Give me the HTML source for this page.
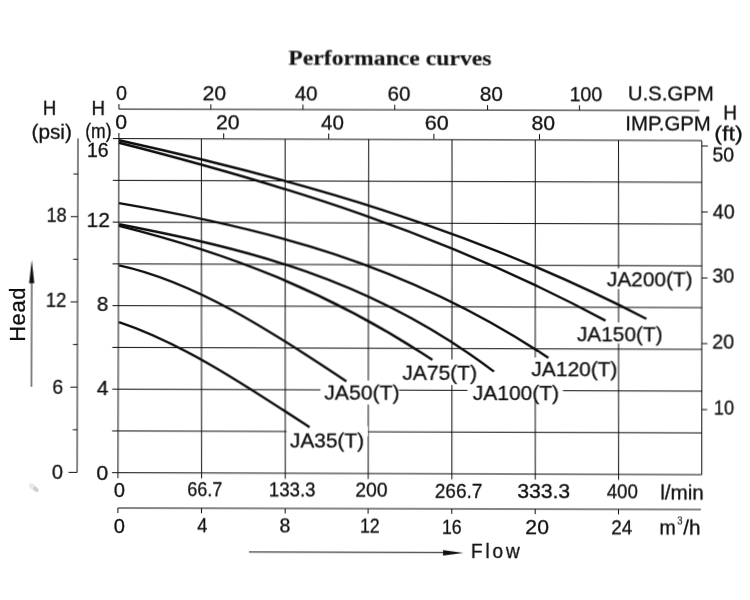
<!DOCTYPE html>
<html lang="en"><head><meta charset="utf-8"><title>Performance curves</title>
<style>html,body{margin:0;padding:0;background:#fff}body{width:750px;height:600px;overflow:hidden}svg{display:block}</style></head>
<body>
<svg width="750" height="600" viewBox="0 0 750 600" fill="#101010">
<style>text{stroke:#101010;stroke-width:.3px;stroke-linejoin:round}</style>
<rect width="750" height="600" fill="#fff"/>
<g transform="rotate(0.15 118.9 138.5)" style="opacity:.999">
<path d="M118.90 138.60L118.87 472.70M201.37 138.67L202.48 472.77M285.14 138.74L286.18 472.84M368.72 138.80L369.08 472.90M451.99 138.87L452.78 472.97M535.26 138.94L536.18 473.04M618.53 139.01L619.48 473.11M701.80 139.07L702.68 473.17M118.90 138.60L701.80 139.07M118.90 180.36L701.91 180.84M118.89 222.13L702.02 222.60M118.89 263.89L702.13 264.36M118.89 305.65L702.24 306.12M118.88 347.41L702.35 347.89M118.88 389.18L702.46 389.65M118.88 430.94L702.57 431.41M118.87 472.70L702.68 473.17" stroke="#0c0c0c" stroke-width="1.0" fill="none"/>
<path d="M112.90 138.60H118.90M112.90 180.36H118.90M112.89 222.13H118.89M112.89 263.89H118.89M112.89 305.65H118.89M112.88 347.41H118.88M112.88 389.18H118.88M112.88 430.94H118.88M112.87 472.70H118.87M118.87 472.70v5.5M202.48 472.77v5.5M286.18 472.84v5.5M369.08 472.90v5.5M452.78 472.97v5.5M536.18 473.04v5.5M619.48 473.11v5.5" stroke="#0c0c0c" stroke-width="1.0" fill="none"/>
<rect x="612.3" y="267.2" width="13.0" height="20.5" fill="#fff"/>
<rect x="612.5" y="321.2" width="13.0" height="21.0" fill="#fff"/>
<rect x="287.3" y="425.6" width="81.5" height="10.0" fill="#fff"/>
<rect x="321.1" y="384.5" width="78.5" height="10.0" fill="#fff"/>
<rect x="363.6" y="379.9" width="11.0" height="24.0" fill="#fff"/>
<rect x="447.6" y="358.6" width="10.0" height="25.5" fill="#fff"/>
<rect x="468.1" y="384.1" width="95.5" height="11.0" fill="#fff"/>
<rect x="530.6" y="356.4" width="11.0" height="43.0" fill="#fff"/>
<path d="M78.00 138.50V472.50H69.50M73.50 429.88H78.00M71.00 387.25H78.00M73.50 344.62H78.00M71.00 302.00H78.00M73.50 259.38H78.00M71.00 216.75H78.00M73.50 174.12H78.00" stroke="#0c0c0c" stroke-width="1.0" fill="none"/>
<path d="M118.90 104.10V109.10H699.40M210.80 104.10V109.10M302.90 104.10V109.10M394.70 104.10V109.10M487.50 104.10V109.10M579.40 104.10V109.10" stroke="#0c0c0c" stroke-width="1.0" fill="none"/>
<path d="M118.90 133.00V138.50M223.70 133.00V138.50M328.70 133.00V138.50M433.90 133.00V138.50M539.50 133.00V138.50" stroke="#0c0c0c" stroke-width="1.0" fill="none"/>
<path d="M701.90 144.47h6M701.90 210.47h6M701.90 276.47h6M701.90 342.07h6M701.90 408.07h6" stroke="#0c0c0c" stroke-width="1.0" fill="none"/>
<path d="M118.90 513.00V508.00H701.90M202.48 508.00v5M286.18 508.00v5M369.08 508.00v5M452.78 508.00v5M536.18 508.00v5M619.48 508.00v5" stroke="#0c0c0c" stroke-width="1.0" fill="none"/>
<path d="M32.1 387V282" stroke="#0c0c0c" stroke-width="1" fill="none"/>
<path d="M32.1 260l2.6 23.5h-5.2z" fill="#101010"/>
<path d="M250.1 551.7H445.1" stroke="#0c0c0c" stroke-width="1" fill="none"/>
<path d="M464.6 552.0l-20.5 -2.8v5.6z" fill="#101010"/>
<path d="M119.00 140.27C294.91 178.75 470.83 226.78 646.87 317.48" stroke="#0c0c0c" stroke-width="2.4" fill="none"/>
<path d="M119.01 142.77C281.29 183.72 443.58 232.55 605.98 319.38" stroke="#0c0c0c" stroke-width="2.4" fill="none"/>
<path d="M119.17 203.16C262.37 227.47 405.59 261.44 548.97 356.74" stroke="#0c0c0c" stroke-width="2.4" fill="none"/>
<path d="M119.22 224.26C244.29 248.30 369.36 276.52 494.61 370.61" stroke="#0c0c0c" stroke-width="2.4" fill="none"/>
<path d="M119.23 225.84C223.76 251.63 328.33 289.92 432.98 359.08" stroke="#0c0c0c" stroke-width="2.4" fill="none"/>
<path d="M119.33 265.38C195.17 281.59 271.10 330.27 347.04 380.75" stroke="#0c0c0c" stroke-width="2.4" fill="none"/>
<path d="M119.48 322.09C183.07 343.12 246.71 385.31 310.36 426.77" stroke="#0c0c0c" stroke-width="2.4" fill="none"/>
<text transform="translate(288.19,64.39) scale(1.0976,1)" font-family="Liberation Serif, Times New Roman, serif" font-size="21.60" font-weight="bold" style="stroke-width:.12px">Performance curves</text>
<text transform="translate(115.91,100.19) scale(0.9942,1)" font-family="Liberation Sans, Arial, sans-serif" font-size="19.80">0</text>
<text transform="translate(202.41,100.05) scale(1.0700,1)" font-family="Liberation Sans, Arial, sans-serif" font-size="19.80">20</text>
<text transform="translate(294.64,100.01) scale(1.0390,1)" font-family="Liberation Sans, Arial, sans-serif" font-size="19.80">40</text>
<text transform="translate(387.58,99.87) scale(1.0323,1)" font-family="Liberation Sans, Arial, sans-serif" font-size="19.80">60</text>
<text transform="translate(479.82,100.12) scale(1.0493,1)" font-family="Liberation Sans, Arial, sans-serif" font-size="19.80">80</text>
<text transform="translate(569.42,99.98) scale(0.9939,1)" font-family="Liberation Sans, Arial, sans-serif" font-size="19.80">100</text>
<text transform="translate(627.72,99.36) scale(1.0294,1)" font-family="Liberation Sans, Arial, sans-serif" font-size="19.80">U.S.GPM</text>
<text transform="translate(115.37,129.19) scale(1.0700,1)" font-family="Liberation Sans, Arial, sans-serif" font-size="19.80">0</text>
<text transform="translate(216.08,129.01) scale(1.0700,1)" font-family="Liberation Sans, Arial, sans-serif" font-size="19.80">20</text>
<text transform="translate(321.11,128.94) scale(1.0390,1)" font-family="Liberation Sans, Arial, sans-serif" font-size="19.80">40</text>
<text transform="translate(424.70,129.17) scale(1.0867,1)" font-family="Liberation Sans, Arial, sans-serif" font-size="19.80">60</text>
<text transform="translate(531.48,128.99) scale(1.0700,1)" font-family="Liberation Sans, Arial, sans-serif" font-size="19.80">80</text>
<text transform="translate(625.29,128.96) scale(1.0276,1)" font-family="Liberation Sans, Arial, sans-serif" font-size="19.80">IMP.GPM</text>
<text transform="translate(42.85,115.28) scale(0.9422,1)" font-family="Liberation Sans, Arial, sans-serif" font-size="19.80">H</text>
<text transform="translate(31.50,138.58) scale(1.0490,1)" font-family="Liberation Sans, Arial, sans-serif" font-size="19.80">(psi)</text>
<text transform="translate(91.55,115.15) scale(0.9422,1)" font-family="Liberation Sans, Arial, sans-serif" font-size="19.80">H</text>
<text transform="translate(85.20,138.45) scale(0.8868,1)" font-family="Liberation Sans, Arial, sans-serif" font-size="19.80">(m)</text>
<text transform="translate(86.98,157.05) scale(0.9677,1)" font-family="Liberation Sans, Arial, sans-serif" font-size="20.20">16</text>
<text transform="translate(86.86,227.35) scale(1.0562,1)" font-family="Liberation Sans, Arial, sans-serif" font-size="19.80">12</text>
<text transform="translate(97.17,311.04) scale(1.0531,1)" font-family="Liberation Sans, Arial, sans-serif" font-size="19.80">8</text>
<text transform="translate(97.40,395.44) scale(1.0601,1)" font-family="Liberation Sans, Arial, sans-serif" font-size="19.80">4</text>
<text transform="translate(97.24,479.84) scale(1.0789,1)" font-family="Liberation Sans, Arial, sans-serif" font-size="19.80">0</text>
<text transform="translate(46.66,222.46) scale(0.9160,1)" font-family="Liberation Sans, Arial, sans-serif" font-size="19.80">18</text>
<text transform="translate(46.26,307.16) scale(0.9332,1)" font-family="Liberation Sans, Arial, sans-serif" font-size="19.80">12</text>
<text transform="translate(52.89,393.56) scale(0.9828,1)" font-family="Liberation Sans, Arial, sans-serif" font-size="19.80">6</text>
<text transform="translate(52.69,479.46) scale(1.0154,1)" font-family="Liberation Sans, Arial, sans-serif" font-size="19.80">0</text>
<text transform="translate(723.18,117.80) scale(0.9507,1)" font-family="Liberation Sans, Arial, sans-serif" font-size="20.00">H</text>
<text transform="translate(714.34,139.20) scale(1.1460,1)" font-family="Liberation Sans, Arial, sans-serif" font-size="20.40">(ft)</text>
<text transform="translate(712.48,160.32) scale(0.9881,1)" font-family="Liberation Sans, Arial, sans-serif" font-size="19.80">50</text>
<text transform="translate(712.97,216.82) scale(0.9909,1)" font-family="Liberation Sans, Arial, sans-serif" font-size="19.80">40</text>
<text transform="translate(712.84,281.12) scale(0.9857,1)" font-family="Liberation Sans, Arial, sans-serif" font-size="19.80">30</text>
<text transform="translate(712.76,346.82) scale(0.9978,1)" font-family="Liberation Sans, Arial, sans-serif" font-size="19.80">20</text>
<text transform="translate(714.55,412.81) scale(0.9215,1)" font-family="Liberation Sans, Arial, sans-serif" font-size="19.80">10</text>
<text transform="translate(114.73,496.60) scale(1.0154,1)" font-family="Liberation Sans, Arial, sans-serif" font-size="19.80">0</text>
<text transform="translate(188.24,496.37) scale(0.9088,1)" font-family="Liberation Sans, Arial, sans-serif" font-size="19.80">66.7</text>
<text transform="translate(269.74,496.44) scale(0.9445,1)" font-family="Liberation Sans, Arial, sans-serif" font-size="19.80">133.3</text>
<text transform="translate(356.17,496.34) scale(0.9781,1)" font-family="Liberation Sans, Arial, sans-serif" font-size="19.80">200</text>
<text transform="translate(435.79,496.91) scale(0.9586,1)" font-family="Liberation Sans, Arial, sans-serif" font-size="19.80">266.7</text>
<text transform="translate(518.15,496.89) scale(1.0700,1)" font-family="Liberation Sans, Arial, sans-serif" font-size="19.80">333.3</text>
<text transform="translate(607.72,496.98) scale(0.9426,1)" font-family="Liberation Sans, Arial, sans-serif" font-size="19.80">400</text>
<text transform="translate(661.15,497.52) scale(1.0420,1)" font-family="Liberation Sans, Arial, sans-serif" font-size="19.80">l/min</text>
<text transform="translate(114.63,532.50) scale(1.0154,1)" font-family="Liberation Sans, Arial, sans-serif" font-size="19.80">0</text>
<text transform="translate(198.22,532.28) scale(0.9201,1)" font-family="Liberation Sans, Arial, sans-serif" font-size="19.80">4</text>
<text transform="translate(280.40,532.46) scale(0.9886,1)" font-family="Liberation Sans, Arial, sans-serif" font-size="19.80">8</text>
<text transform="translate(360.89,532.34) scale(0.9024,1)" font-family="Liberation Sans, Arial, sans-serif" font-size="19.80">12</text>
<text transform="translate(442.90,532.83) scale(0.8956,1)" font-family="Liberation Sans, Arial, sans-serif" font-size="19.80">16</text>
<text transform="translate(526.37,532.80) scale(1.0700,1)" font-family="Liberation Sans, Arial, sans-serif" font-size="19.80">20</text>
<text transform="translate(612.29,532.88) scale(0.9587,1)" font-family="Liberation Sans, Arial, sans-serif" font-size="19.80">24</text>
<text font-family="Liberation Sans, Arial, sans-serif"><tspan x="660.41" y="533.46" font-size="19.80" textLength="16.30" lengthAdjust="spacingAndGlyphs">m</tspan><tspan x="678.15" y="523.13" font-size="10.00" textLength="5.27" lengthAdjust="spacingAndGlyphs" style="stroke-width:.12px">3</tspan><tspan x="684.24" y="533.40" font-size="19.80" textLength="17.28" lengthAdjust="spacingAndGlyphs">/h</tspan></text>
<text transform="translate(472.02,557.41) scale(0.9469,1)" font-family="Liberation Sans, Arial, sans-serif" font-size="20.20" letter-spacing="3.00">Flow</text>
<text transform="translate(607.27,285.41) scale(1.0434,1)" font-family="Liberation Sans, Arial, sans-serif" font-size="20.00">JA200(T)</text>
<text transform="translate(577.42,340.09) scale(1.0434,1)" font-family="Liberation Sans, Arial, sans-serif" font-size="20.00">JA150(T)</text>
<text transform="translate(532.11,375.21) scale(1.0458,1)" font-family="Liberation Sans, Arial, sans-serif" font-size="20.00">JA120(T)</text>
<text transform="translate(473.57,399.36) scale(1.0483,1)" font-family="Liberation Sans, Arial, sans-serif" font-size="20.00">JA100(T)</text>
<text transform="translate(402.91,378.56) scale(1.0525,1)" font-family="Liberation Sans, Arial, sans-serif" font-size="20.00">JA75(T)</text>
<text transform="translate(324.97,398.96) scale(1.0582,1)" font-family="Liberation Sans, Arial, sans-serif" font-size="20.00">JA50(T)</text>
<text transform="translate(290.69,446.86) scale(1.0439,1)" font-family="Liberation Sans, Arial, sans-serif" font-size="20.00">JA35(T)</text>
</g>
<text transform="translate(24.8,341.81) rotate(-90) scale(0.9707,1)" font-family="Liberation Sans, Arial, sans-serif" font-size="22.6" letter-spacing="0.6">Head</text>
<ellipse cx="33.5" cy="487.5" rx="6" ry="2.6" transform="rotate(40 33.5 487.5)" fill="#e9e9e9"/>
<ellipse cx="35.8" cy="489.3" rx="3.2" ry="2" transform="rotate(40 35.8 489.3)" fill="#cfcfcf"/>
</svg>
</body></html>
